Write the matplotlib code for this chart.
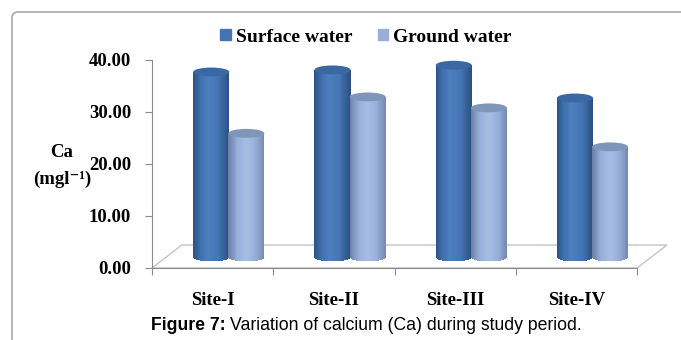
import matplotlib
matplotlib.use("Agg")
import matplotlib.pyplot as plt
import numpy as np
from matplotlib.patches import Ellipse, Polygon, FancyBboxPatch, Rectangle
from matplotlib.colors import LinearSegmentedColormap

# data (mg/l)
sites = ['Site-I', 'Site-II', 'Site-III', 'Site-IV']
surface = [35.6, 36.0, 36.9, 30.6]
ground = [23.8, 30.8, 28.7, 21.2]
series_names = ['Surface water', 'Ground water']
yticks = [0, 10, 20, 30, 40]

serif = ['Liberation Serif', 'DejaVu Serif']

fig = plt.figure(figsize=(6.81, 3.40), dpi=100)
ax = fig.add_axes([152/681, 72/340, 485/681, 208/340])
ax.set_xlim(-0.5, 3.5)
ax.set_ylim(0, 40)

# 3d look: depth offsets (in data units)
dx, dy = 0.247, 4.42          # back edge of the floor
mx, my = dx / 2 + 0.01, 2.1   # where the cylinders stand
bw = 0.297                     # cylinder width
gap = 0.29                     # distance between the two cylinders
eh = 1.7                       # ellipse height (value units)

# floor
floor = Polygon([(-0.5, 0), (3.5, 0), (3.5 + dx, dy), (-0.5 + dx, dy)],
                closed=True, facecolor='white', edgecolor='#c4c4c4',
                lw=1.0, clip_on=False, zorder=1)
ax.add_patch(floor)

cm_surf = LinearSegmentedColormap.from_list(
    's', [(0, '#2c5286'), (0.2, '#4070ad'), (0.4, '#4d7fc0'),
          (0.7, '#4474b2'), (1, '#2b4f80')])
cm_grd = LinearSegmentedColormap.from_list(
    'g', [(0, '#6a7fa6'), (0.25, '#97afd9'), (0.5, '#a7bee4'),
          (0.75, '#97afd8'), (1, '#7489b2')])
top_cols = ['#3b67a2', '#8095ba']


def cylinder(xc, y0, val, cmap, topc):
    n = 40
    edges = np.linspace(xc - bw / 2, xc + bw / 2, n + 1)
    cen = (edges[:-1] + edges[1:]) / 2
    u = (cen - xc) / (bw / 2)
    off = eh / 2 * np.sqrt(np.clip(1 - u ** 2, 0, 1))
    cols = [cmap((k + 0.5) / n) for k in range(n)]
    ax.bar(cen, val + off, width=(bw / n) * 1.05, bottom=y0 - off,
           color=cols, linewidth=0, clip_on=False, zorder=3)
    ax.add_patch(Ellipse((xc, y0 + val), bw, eh, facecolor=topc,
                         edgecolor='none', clip_on=False, zorder=4))


for i in range(len(sites)):
    base = i + mx
    cylinder(base - gap / 2, my, surface[i], cm_surf, top_cols[0])
    cylinder(base + gap / 2, my, ground[i], cm_grd, top_cols[1])

# axes styling
for s in ['top', 'right']:
    ax.spines[s].set_visible(False)
ax.spines['left'].set_color('#8a8a8a')
ax.spines['bottom'].set_color('#8a8a8a')
ax.set_yticks(yticks)
ax.set_yticklabels(['%.2f' % v for v in yticks], fontfamily=serif,
                   fontweight='bold', fontsize=13.5)
ax.tick_params(axis='y', length=5, color='#8a8a8a', pad=10)
ax.set_xticks(np.arange(-0.5, 4, 1))
ax.set_xticklabels([])
ax.tick_params(axis='x', which='major', length=5, color='#8a8a8a')
ax.set_xticks(range(len(sites)), minor=True)
ax.set_xticklabels(sites, minor=True, fontfamily=serif, fontweight='bold',
                   fontsize=13.5)
ax.tick_params(axis='x', which='minor', length=0, pad=17)
ax.set_facecolor('none')

fig.text(62/681, 1 - 153/340, 'Ca', ha='center', va='center',
         fontfamily=serif, fontweight='bold', fontsize=13.5)
fig.text(62/681, 1 - 179/340, '(mgl\u207b\u00b9)', ha='center', va='center',
         fontfamily=serif, fontweight='bold', fontsize=13.5)

# legend
handles = [Rectangle((0, 0), 1, 1, color='#4474b2'),
           Rectangle((0, 0), 1, 1, color='#97afd9')]
fig.legend(handles, series_names, loc='center', bbox_to_anchor=(366/681, 1 - 37/340),
           ncol=2, frameon=False, handlelength=0.55, handleheight=0.55,
           handletextpad=0.25, columnspacing=1.3,
           prop={'family': serif, 'weight': 'bold', 'size': 14})

# caption
fig.text(226/681, 1 - 325/340, 'Figure 7:', ha='right', va='center',
         fontfamily='Liberation Sans', fontweight='bold', fontsize=12.7)
fig.text(230/681, 1 - 325/340, 'Variation of calcium (Ca) during study period.',
         ha='left', va='center', fontfamily='Liberation Sans', fontsize=12.7)

# frame around the figure
frame = FancyBboxPatch((0.12, -0.5), 7.5, 3.28 + 0.5,
                       boxstyle='round,pad=0,rounding_size=0.06',
                       transform=fig.dpi_scale_trans, facecolor='none',
                       edgecolor='#a8a8a8', lw=1.2)
fig.add_artist(frame)

fig.savefig('out.png', dpi=100)
